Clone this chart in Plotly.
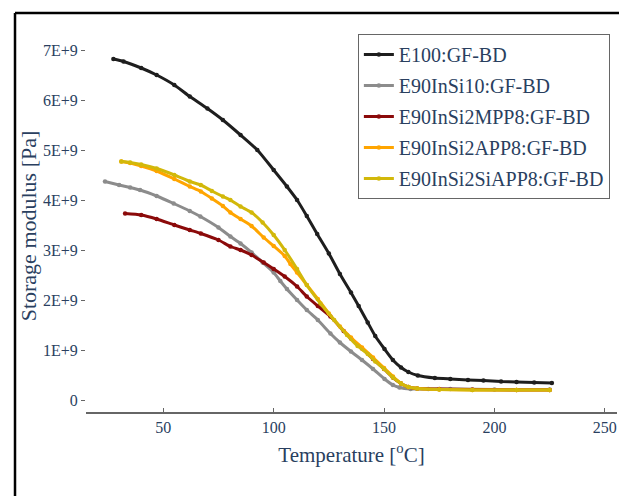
import plotly.graph_objects as go

names = ["E100:GF-BD", "E90InSi10:GF-BD", "E90InSi2MPP8:GF-BD",
         "E90InSi2APP8:GF-BD", "E90InSi2SiAPP8:GF-BD"]
colors = ["#1e1e1e", "#8c8c8c", "#8b0a0a", "#ffa500", "#d2b80a"]

t_e100 = [27.4, 32, 40, 47, 55, 62, 70, 77, 85, 92.6, 100, 106, 110.6, 115, 119.7, 125, 130, 135, 138.5,
          142.6, 146, 150.2, 154, 157.7, 161, 165.3, 173, 180, 188, 195, 203, 210, 218, 226]
g_e100 = [6.82, 6.77, 6.64, 6.5, 6.3, 6.07, 5.83, 5.6, 5.3, 5.0, 4.6, 4.27, 4.0, 3.68, 3.32, 2.93, 2.52, 2.15, 1.88,
          1.55, 1.28, 1.02, 0.8, 0.65, 0.56, 0.49, 0.44, 0.42, 0.4, 0.39, 0.37, 0.36, 0.35, 0.34]

t_insi10 = [23.6, 30, 35, 39.5, 47, 54.7, 62, 66.8, 75, 80.4, 85, 90, 95, 100, 103, 106, 110.6, 115, 120,
            125.7, 130, 135, 140, 145, 150.2, 154, 157, 162, 170, 180, 200, 225]
g_insi10 = [4.37, 4.3, 4.25, 4.2, 4.08, 3.93, 3.78, 3.67, 3.45, 3.27, 3.13, 2.95, 2.75, 2.55, 2.38, 2.22, 2.0, 1.8, 1.6,
            1.33, 1.15, 0.97, 0.8, 0.62, 0.42, 0.3, 0.25, 0.22, 0.22, 0.22, 0.21, 0.21]

t_mpp8 = [32.7, 40, 47, 55, 62, 67, 75, 80.4, 85, 90, 95.5, 100, 105, 110.6, 115, 120, 125.7, 131.7, 135,
          140, 145, 150, 154, 157.7, 161, 165, 175, 190, 210, 225]
g_mpp8 = [3.73, 3.7, 3.62, 3.5, 3.4, 3.33, 3.2, 3.07, 3.0, 2.9, 2.75, 2.62, 2.47, 2.27, 2.07, 1.88, 1.67, 1.38, 1.23,
          1.03, 0.82, 0.62, 0.45, 0.33, 0.26, 0.23, 0.22, 0.21, 0.2, 0.2]

t_app8 = [31, 35, 40, 47, 55, 62, 67, 72, 77, 80.4, 85, 90, 95.5, 100, 105, 107.6, 110.6, 115, 120, 125,
          130, 135, 140, 145, 150, 154, 157.7, 161, 165, 175, 190, 210, 225]
g_app8 = [4.77, 4.74, 4.68, 4.58, 4.42, 4.27, 4.17, 4.03, 3.88, 3.75, 3.62, 3.48, 3.25, 3.08, 2.88, 2.72, 2.55, 2.3, 2.02, 1.73,
          1.47, 1.25, 1.05, 0.85, 0.64, 0.47, 0.33, 0.26, 0.23, 0.21, 0.2, 0.2, 0.2]

t_siapp8 = [31, 35, 40, 47, 55, 62, 67, 72, 77, 80.4, 85, 90, 95, 100, 105, 110.6, 115, 121.2, 127.4, 133.2,
            138, 142.6, 146, 150, 154, 157.7, 161, 165, 175, 190, 210, 225]
g_siapp8 = [4.77, 4.75, 4.71, 4.63, 4.5, 4.37, 4.3, 4.18, 4.07, 4.0, 3.87, 3.75, 3.55, 3.3, 3.0, 2.62, 2.3, 1.93, 1.6, 1.3,
            1.08, 0.92, 0.77, 0.62, 0.45, 0.33, 0.26, 0.23, 0.21, 0.2, 0.2, 0.2]

xs = [t_e100, t_insi10, t_mpp8, t_app8, t_siapp8]
ys = [g_e100, g_insi10, g_mpp8, g_app8, g_siapp8]

y_tickvals = [0, 1e9, 2e9, 3e9, 4e9, 5e9, 6e9, 7e9]
y_ticktext = ["0", "1E+9", "2E+9", "3E+9", "4E+9", "5E+9", "6E+9", "7E+9"]
x_tickvals = [50, 100, 150, 200, 250]

txt = "#2a3f5f"
serif = "Liberation Serif"

fig = go.Figure()
for i, (n, c, x, y) in enumerate(zip(names, colors, xs, ys)):
    fig.add_trace(go.Scatter(
        x=x, y=[v * 1e9 for v in y], name=n, mode="lines+markers",
        line=dict(color=c, width=3, shape="spline", smoothing=0.6),
        marker=dict(color=c, size=4.5),
        legendgroup=f"g{i}",
    ))

fig.update_layout(
    width=619, height=496,
    margin=dict(l=86, r=2, t=40, b=84),
    paper_bgcolor="white", plot_bgcolor="white",
    font=dict(family=serif, color=txt, size=16),
    showlegend=True,
    legend=dict(
        x=0.512, y=1.016, xanchor="left", yanchor="top",
        bgcolor="white", bordercolor="#666", borderwidth=1,
        font=dict(family=serif, size=20, color=txt),
        tracegroupgap=2, itemwidth=30,
    ),
    xaxis=dict(
        range=[15, 255.5], tickvals=x_tickvals,
        showgrid=False, zeroline=False,
        showline=True, linecolor="#666", linewidth=1.5,
        ticks="inside", ticklen=4, tickcolor="#666",
        tickfont=dict(family=serif, size=16, color=txt),
        title=dict(text="Temperature [<sup>o</sup>C]",
                   font=dict(family=serif, size=21, color=txt), standoff=12),
    ),
    yaxis=dict(
        range=[-0.24e9, 7.2e9], tickvals=y_tickvals, ticktext=y_ticktext,
        showgrid=False, zeroline=False, showline=False,
        ticks="outside", ticklen=4, tickcolor="#666",
        tickfont=dict(family=serif, size=16, color=txt),
        title=dict(text="Storage modulus [Pa]",
                   font=dict(family=serif, size=22, color=txt), standoff=0),
    ),
    shapes=[
        dict(type="line", xref="paper", yref="paper",
             x0=-0.1337, x1=-0.1337, y0=-0.3, y1=1.0726,
             line=dict(color="black", width=2.5), layer="above"),
        dict(type="line", xref="paper", yref="paper",
             x0=-0.1337, x1=1.2, y0=1.0726, y1=1.0726,
             line=dict(color="black", width=2.5), layer="above"),
    ],
)

fig.write_html(
    "out.html",
    config={"displayModeBar": False},
    post_script="document.body.style.margin='0';document.body.style.overflow='hidden';",
)
